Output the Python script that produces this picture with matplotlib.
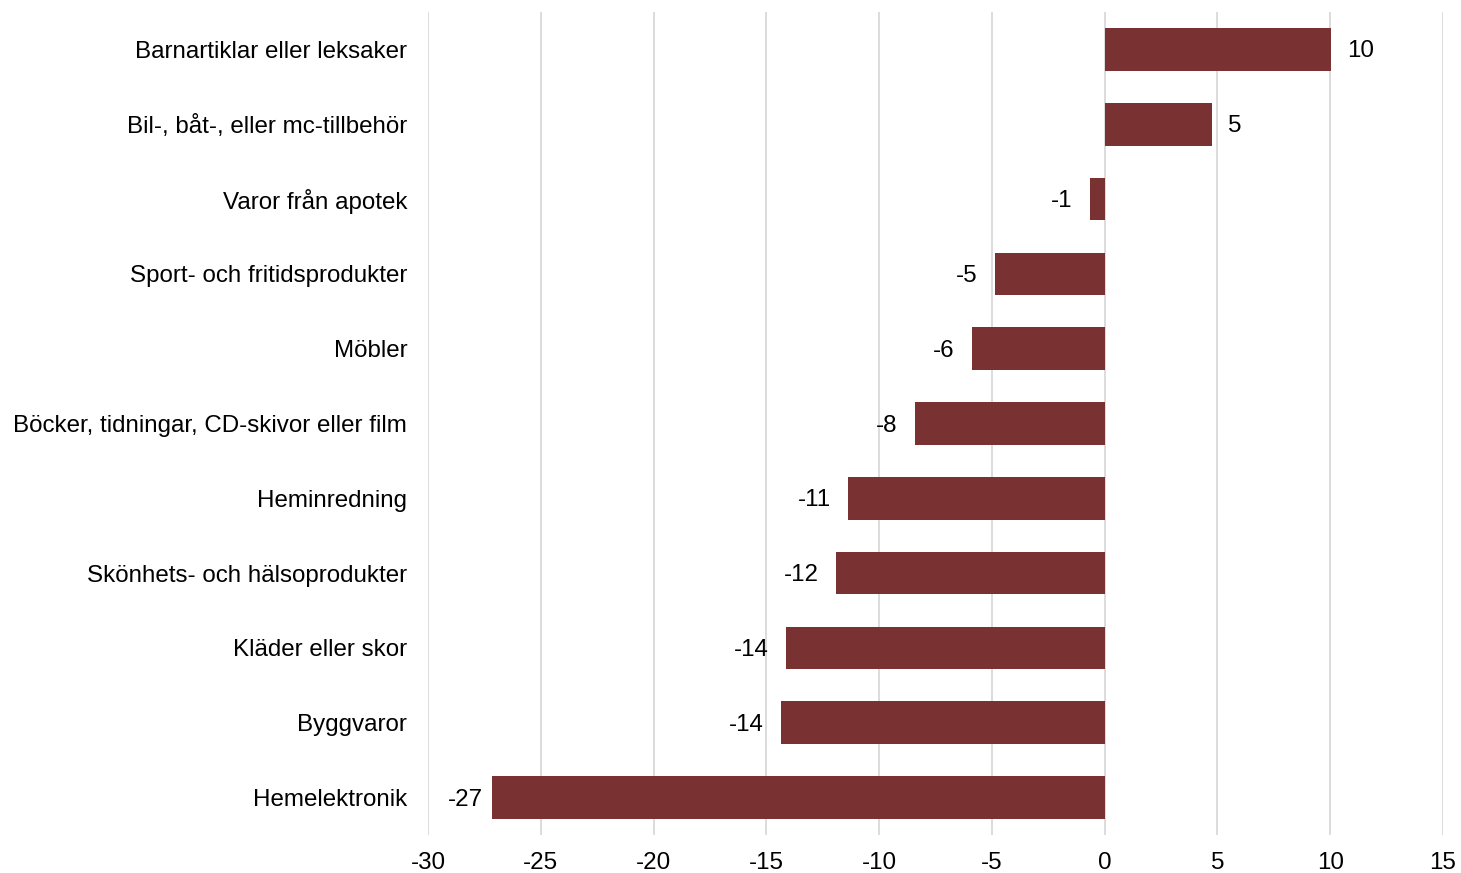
import matplotlib
matplotlib.use("Agg")
import matplotlib.pyplot as plt
import numpy as np

plt.rcParams["font.family"] = ["Liberation Sans", "DejaVu Sans"]

categories = [
    "Barnartiklar eller leksaker",
    "Bil-, båt-, eller mc-tillbehör",
    "Varor från apotek",
    "Sport- och fritidsprodukter",
    "Möbler",
    "Böcker, tidningar, CD-skivor eller film",
    "Heminredning",
    "Skönhets- och hälsoprodukter",
    "Kläder eller skor",
    "Byggvaror",
    "Hemelektronik",
]
values = [10.05, 4.74, -0.66, -4.87, -5.89, -8.42, -11.39, -11.92, -14.13, -14.36, -27.16]
xticks = [-30, -25, -20, -15, -10, -5, 0, 5, 10, 15]

fig = plt.figure(figsize=(14.61, 8.73), dpi=100)
ax = fig.add_axes([428 / 1461, 1 - 835 / 873, (1443 - 428) / 1461, (835 - 12) / 873])

y = np.arange(len(categories))
ax.barh(y, values, height=0.57, color="#7A3131", zorder=3)

fs = 17.4
vmin = min(values)
for yi, v in zip(y, values):
    lbl = f"{round(v):d}"
    if v >= 0:
        ax.annotate(lbl, (v, yi), xytext=(16, -2), textcoords="offset pixels",
                    va="center", ha="left", fontsize=fs)
    else:
        # longest bar: label squeezed closer to stay inside the plot
        gap = 9 if v == vmin else 17
        ax.annotate(lbl, (v, yi), xytext=(-gap, -2), textcoords="offset pixels",
                    va="center", ha="right", fontsize=fs)

ax.set_yticks(y)
ax.set_yticklabels(categories, fontsize=fs)
ax.set_ylim(len(categories) - 0.5, -0.5)
ax.set_xlim(-30, 15)
ax.set_xticks(xticks)
ax.set_xticklabels([str(t) for t in xticks], fontsize=fs)
ax.tick_params(axis="both", length=0)
ax.tick_params(axis="y", pad=15)
ax.tick_params(axis="x", pad=12)
for s in ax.spines.values():
    s.set_visible(False)
ax.xaxis.grid(True, color="#D9D9D9", lw=1.3, zorder=0)
ax.set_axisbelow(True)

fig.savefig("out.png", dpi=100)
